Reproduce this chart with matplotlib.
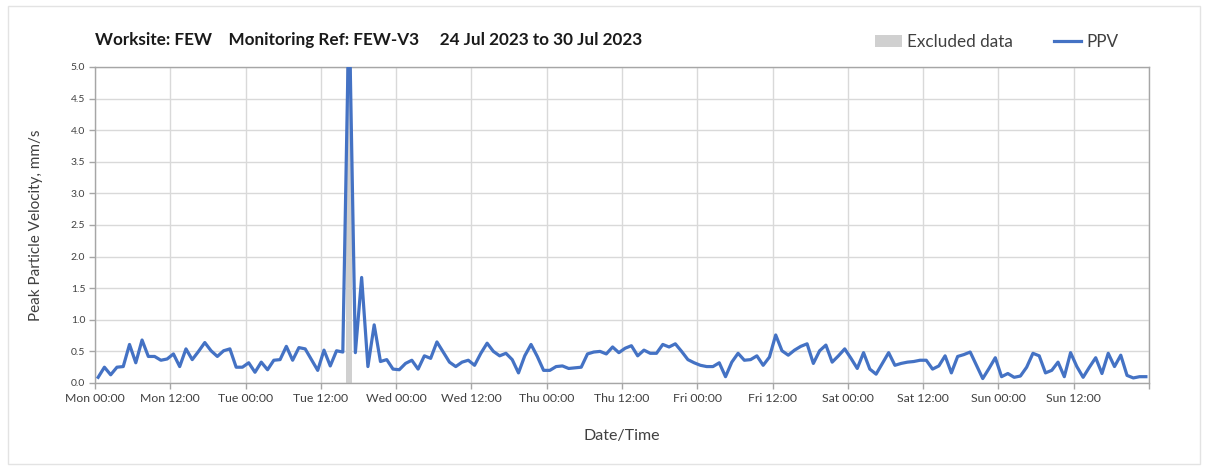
import numpy as np
import pandas as pd
import matplotlib
matplotlib.use("Agg")
import matplotlib.pyplot as plot
import matplotlib.dates as mdates
from matplotlib.patches import Rectangle, Patch
from matplotlib.lines import Line2D

plot.rcParams['font.family'] = ['Lato', 'DejaVu Sans']

# hourly PPV readings, mm/s (Mon 24 Jul 2023 00:30 onwards)
ppv_mon = [0.09, 0.25, 0.13, 0.25, 0.26, 0.61, 0.32, 0.68, 0.42, 0.42, 0.36, 0.38,
           0.46, 0.26, 0.54, 0.37, 0.50, 0.64, 0.51, 0.42, 0.51, 0.54, 0.25, 0.25]
ppv_tue = [0.32, 0.17, 0.33, 0.21, 0.36, 0.37, 0.58, 0.36, 0.56, 0.54, 0.37, 0.20,
           0.52, 0.27, 0.51, 0.49, 6.00, 0.48, 1.67, 0.26, 0.92, 0.34, 0.37, 0.22]
ppv_wed = [0.21, 0.31, 0.36, 0.22, 0.43, 0.39, 0.65, 0.49, 0.33, 0.26, 0.33, 0.36,
           0.28, 0.47, 0.63, 0.50, 0.43, 0.47, 0.37, 0.16, 0.43, 0.61, 0.42, 0.20]
ppv_thu = [0.20, 0.26, 0.27, 0.23, 0.24, 0.25, 0.46, 0.49, 0.50, 0.46, 0.57, 0.48,
           0.55, 0.59, 0.43, 0.52, 0.47, 0.47, 0.61, 0.57, 0.62, 0.50, 0.37, 0.32]
ppv_fri = [0.28, 0.26, 0.26, 0.32, 0.10, 0.33, 0.47, 0.36, 0.37, 0.43, 0.28, 0.41,
           0.76, 0.51, 0.44, 0.52, 0.58, 0.62, 0.31, 0.51, 0.60, 0.33, 0.43, 0.54]
ppv_sat = [0.39, 0.23, 0.48, 0.22, 0.14, 0.31, 0.48, 0.28, 0.31, 0.33, 0.34, 0.36,
           0.36, 0.22, 0.27, 0.43, 0.16, 0.42, 0.45, 0.49, 0.28, 0.07, 0.23, 0.40]
ppv_sun = [0.10, 0.15, 0.09, 0.11, 0.25, 0.47, 0.43, 0.16, 0.20, 0.33, 0.10, 0.48,
           0.26, 0.09, 0.25, 0.40, 0.15, 0.47, 0.26, 0.44, 0.12, 0.08, 0.10, 0.10]
ppv = ppv_mon + ppv_tue + ppv_wed + ppv_thu + ppv_fri + ppv_sat + ppv_sun

excluded_hours = [40]  # reading index flagged as excluded

start = pd.Timestamp("2023-07-24 00:30")
times = pd.date_range(start, periods=len(ppv), freq="h")
x_min = pd.Timestamp("2023-07-24 00:00")
x_max = pd.Timestamp("2023-07-31 00:00")

blue = "#4472C4"
grid_col = "#d9d9d9"
text_col = "#404040"

fig = plot.figure(figsize=(12.08, 4.70), dpi=100)
ax = fig.add_axes([95 / 1208, 87 / 470, 1054 / 1208, 316 / 470])

# grey band for excluded reading(s)
half = pd.Timedelta(minutes=30)
for i in excluded_hours:
    ax.axvspan(times[i] - half, times[i] + half, color="#d0d0d0", lw=0, zorder=1)

ax.plot(times, ppv, color=blue, lw=2.3, zorder=3)

ax.set_xlim(x_min, x_max)
ax.set_ylim(0, 5)
ax.set_yticks(np.arange(0, 5.01, 0.5))
ax.yaxis.set_major_formatter(matplotlib.ticker.FormatStrFormatter("%.1f"))
ax.xaxis.set_major_locator(mdates.HourLocator(byhour=[0, 12]))


def tick_fmt(v, pos):
    d = mdates.num2date(v).replace(tzinfo=None)
    if d >= x_max.to_pydatetime():
        return ""
    return d.strftime("%a %H:%M")


ax.xaxis.set_major_formatter(matplotlib.ticker.FuncFormatter(tick_fmt))

ax.grid(True, color=grid_col, lw=1.0, zorder=0)
ax.set_axisbelow(True)
for s in ax.spines.values():
    s.set_color("#a6a6a6")
    s.set_linewidth(1.0)
ax.tick_params(axis="both", colors="#a6a6a6", length=4, width=1.0,
               labelcolor=text_col)
ax.tick_params(axis="y", labelsize=7.5, pad=3)
ax.tick_params(axis="x", labelsize=8.8, pad=3)

ax.set_ylabel("Peak Particle Velocity, mm/s", fontsize=11, color=text_col, labelpad=20)
ax.set_xlabel("Date/Time", fontsize=11.5, color=text_col, labelpad=18)

fig.text(95 / 1208, 1 - 40 / 470,
         "Worksite: FEW    Monitoring Ref: FEW-V3     24 Jul 2023 to 30 Jul 2023",
         fontsize=12.3, fontweight="bold", color="#1a1a1a", va="center", ha="left")

handles = [Patch(facecolor="#d0d0d0", edgecolor="none", label="Excluded data"),
           Line2D([0], [0], color=blue, lw=2.3, label="PPV")]
fig.legend(handles=handles, loc="center right", bbox_to_anchor=(1134 / 1208, 1 - 42 / 470),
           ncol=2, frameon=False, fontsize=12.3, handlelength=1.6, handletextpad=0.3,
           columnspacing=2.4, labelcolor=text_col)

# light outer frame
fig.patches.append(Rectangle((8 / 1208, 6 / 470), 1192 / 1208, 458 / 470,
                             transform=fig.transFigure, fill=False,
                             edgecolor="#e3e3e3", lw=1.0))

fig.savefig("out.png", dpi=100)
